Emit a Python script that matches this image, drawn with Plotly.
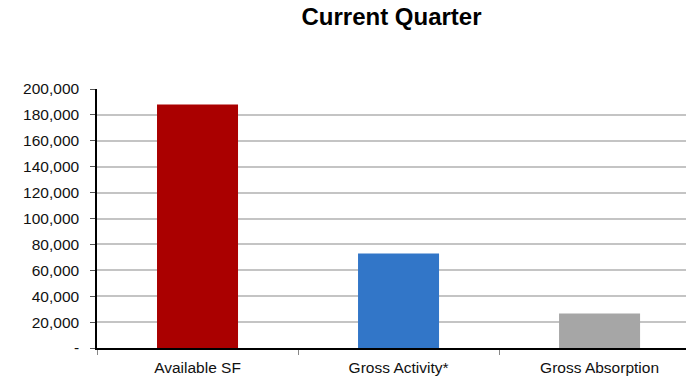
import plotly.graph_objects as go

categories = ["Available SF", "Gross Activity*", "Gross Absorption"]
values = [188000, 73000, 26600]
colors = ["#AA0000", "#3276C8", "#A6A6A6"]
y_ticks = [0, 20000, 40000, 60000, 80000, 100000, 120000, 140000, 160000, 180000, 200000]
y_tick_text = ["-"] + [f"{v:,}" for v in y_ticks[1:]]

fig = go.Figure(
    go.Bar(
        x=categories,
        y=values,
        marker=dict(color=colors, line=dict(width=0)),
        width=0.403,
    )
)

fig.update_layout(
    width=686,
    height=376,
    margin=dict(l=97, r=0, t=89, b=27.5),
    paper_bgcolor="white",
    plot_bgcolor="white",
    showlegend=False,
    font=dict(family="Liberation Sans, Arial", size=15.5, color="#111111"),
    title=dict(
        text="<b>Current Quarter</b>",
        font=dict(family="Liberation Sans, Arial", size=24, color="#000000"),
        x=391.5 / 686,
        xanchor="center",
        y=1 - 17 / 376,
        yanchor="middle",
    ),
)

fig.update_xaxes(
    range=[-0.5, 2.43],
    showline=True,
    linecolor="#000000",
    linewidth=1.5,
    ticks="outside",
    tickson="boundaries",
    ticklen=5,
    tickcolor="#888888",
    tickwidth=1,
    showgrid=False,
    tickfont=dict(size=15.5),
    ticklabelstandoff=5,
)

fig.update_yaxes(
    range=[0, 200000],
    tickvals=y_ticks,
    ticktext=y_tick_text,
    showline=True,
    linecolor="#000000",
    linewidth=1.5,
    ticks="outside",
    ticklen=5,
    tickcolor="#555555",
    showgrid=True,
    gridcolor="#C4C4C4",
    gridwidth=2,
    zeroline=False,
    tickfont=dict(size=15.5),
    ticklabelstandoff=8,
)

fig.write_html("out.html")
